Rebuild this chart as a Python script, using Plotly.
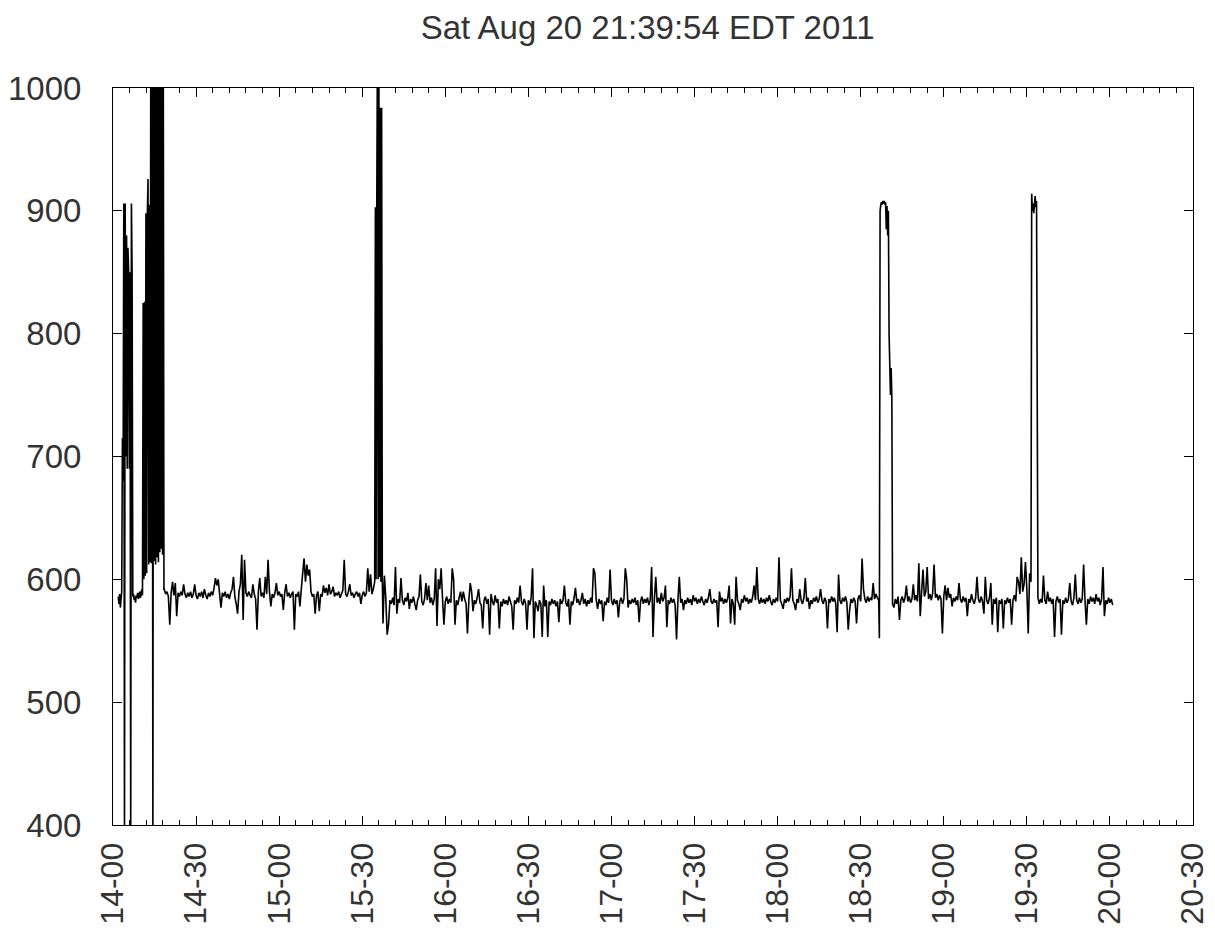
import pandas as pd
import plotly.graph_objects as go

# ---------------- data (minutes after 14:00) ----------------
title_text = "Sat Aug 20 21:39:54 EDT 2011"
day = "2011-08-20 14:00:00"

# 14:01.9 -> 14:18.4, sampled every 0.25 min (first spikes and the first dense burst)
early_start, early_step = 1.9, 0.25
early_vals = [586, 580, 588, 577, 584, 590, 715, 680, 906, 380, 906, 700, 880, 690, 870, 850, 690, 850, 380, 906, 850, 586,
              588, 583, 586, 581, 587, 585, 589, 584, 586, 590, 585, 588, 592, 587,
              825, 600, 826, 603, 898, 605, 897, 926, 612, 905, 614, 1040, 613, 1040, 380, 1040, 615, 1040, 612, 1040,
              618, 1040, 614, 1040, 622, 1040, 625, 1040, 620, 1040, 592]

# 14:18.5 -> 15:34.5, every 0.5 min
base_a_start, base_a_step = 18.5, 0.5
base_a = [592, 588, 590, 586, 563, 589, 598, 587, 597, 570, 589, 586, 590, 587, 596, 588, 585, 589, 586, 590,
          585, 588, 596, 587, 584, 589, 586, 590, 585, 592, 587, 584, 589, 586, 590, 587, 593, 601, 595, 600,
          588, 577, 589, 586, 590, 585, 588, 584, 589, 592, 602, 586, 580, 572, 590, 596, 620, 567, 616, 589,
          586, 590, 587, 585, 596, 588, 584, 559, 590, 601, 586, 589, 585, 602, 588, 616, 590, 578, 588, 585,
          589, 597, 587, 590, 586, 588, 575, 589, 596, 586, 589, 585, 588, 590, 559, 588, 586, 590, 578, 592,
          605, 617, 598, 612, 603, 608, 590, 586, 588, 572, 587, 590, 574, 588, 586, 595, 589, 593, 587, 596,
          588, 590, 594, 586, 589, 587, 590, 585, 588, 591, 616, 588, 586, 590, 596, 587, 589, 585, 588, 590,
          586, 589, 580, 587, 590, 586, 589, 609, 590, 604, 588, 592, 598]

# 15:34.75 -> 15:37.25, every 0.25 min (second dense burst)
block3_start, block3_step = 94.75, 0.25
block3 = [903, 600, 903, 1040, 600, 1040, 602, 984, 598, 984, 600]

# 15:37.5 -> 18:36.5, every 0.5 min
base_b_start, base_b_step = 97.5, 0.5
base_b = [564, 603, 585, 555, 563, 583, 580, 585, 579, 610, 572, 584, 581, 601, 583, 579, 585, 582, 589, 576,
          584, 581, 586, 580, 575, 583, 586, 604, 582, 579, 584, 597, 583, 595, 581, 585, 579, 584, 609, 562,
          600, 592, 609, 584, 563, 582, 586, 580, 584, 581, 609, 600, 563, 583, 579, 585, 590, 582, 590, 584,
          580, 556, 583, 597, 590, 574, 583, 580, 585, 592, 581, 579, 560, 583, 586, 580, 584, 555, 588, 582,
          579, 587, 581, 584, 560, 582, 578, 584, 580, 583, 579, 586, 582, 578, 559, 583, 580, 585, 581, 595,
          582, 579, 584, 580, 559, 583, 579, 585, 609, 552, 582, 579, 574, 583, 580, 553, 595, 578, 583, 553,
          582, 579, 584, 580, 583, 578, 582, 565, 584, 580, 583, 595, 581, 578, 584, 563, 582, 579, 585, 593,
          581, 584, 579, 583, 589, 580, 584, 578, 583, 580, 585, 581, 609, 605, 583, 576, 584, 580, 583, 566,
          582, 579, 585, 581, 608, 583, 579, 584, 580, 583, 569, 582, 585, 580, 584, 609, 600, 577, 583, 580,
          584, 581, 585, 579, 583, 565, 582, 586, 580, 584, 581, 585, 579, 583, 610, 553, 584, 602, 581, 585,
          580, 589, 582, 585, 595, 561, 583, 580, 585, 581, 584, 579, 551, 583, 602, 581, 584, 575, 583, 580,
          585, 581, 584, 579, 587, 582, 585, 580, 584, 581, 586, 582, 579, 584, 581, 585, 592, 582, 580, 584,
          581, 583, 561, 590, 582, 585, 580, 584, 581, 585, 595, 564, 584, 580, 563, 602, 583, 580, 575, 584,
          581, 587, 582, 585, 580, 584, 581, 586, 595, 583, 610, 584, 580, 585, 581, 584, 580, 585, 582, 587,
          582, 579, 584, 581, 585, 582, 618, 583, 580, 576, 584, 581, 585, 582, 586, 609, 583, 580, 575, 584,
          581, 592, 583, 580, 585, 601, 582, 585, 576, 583, 580, 585, 582, 586, 581, 584, 592, 583, 580, 585,
          582, 560, 584, 581, 586, 582, 585, 580, 557, 604, 583, 580, 585, 582, 586, 581, 559, 575, 584, 581,
          585, 582, 564, 584, 587, 582, 617, 592, 584, 581, 586, 582, 585, 583, 597, 584, 588, 585, 583]

# 18:36.75 -> 18:41.25, every 0.25 min (third excursion)
block4_start, block4_step = 276.75, 0.25
block4 = [552, 900, 905, 907, 905, 908, 906, 908, 905, 907, 885, 904, 880, 900, 800, 775, 750, 772, 748]

# 18:41.5 -> 19:31.5, every 0.5 min
base_c_start, base_c_step = 281.5, 0.5
base_c = [580, 577, 584, 580, 586, 567, 583, 586, 581, 585, 595, 582, 586, 581, 584, 596, 583, 587, 582, 613,
          570, 590, 608, 586, 590, 610, 584, 588, 583, 589, 612, 585, 588, 583, 587, 584, 556, 586, 595, 583,
          593, 585, 588, 578, 585, 582, 586, 583, 597, 584, 581, 586, 582, 585, 570, 584, 581, 588, 583, 580,
          585, 602, 584, 581, 586, 582, 572, 602, 583, 580, 585, 597, 563, 584, 580, 585, 557, 583, 580, 584,
          560, 583, 580, 585, 581, 584, 563, 583, 587, 582, 602, 598, 588, 618, 590, 596, 614, 592, 556, 605,
          598]

# 19:31.75 -> 19:33.5, every 0.25 min (fourth excursion)
block5_start, block5_step = 331.75, 0.25
block5 = [914, 900, 906, 898, 905, 912, 903, 908]

# 19:34 -> 20:01, every 0.5 min
base_d_start, base_d_step = 334.0, 0.5
base_d = [585, 580, 584, 581, 603, 583, 580, 590, 582, 585, 580, 584, 553, 582, 586, 581, 584, 555, 583, 580,
          585, 581, 584, 597, 582, 579, 585, 604, 583, 580, 585, 581, 584, 612, 583, 563, 584, 580, 586, 582,
          585, 580, 588, 582, 585, 579, 584, 610, 570, 583, 580, 585, 581, 584, 579]

x_range = ["2011-08-20 14:00:00", "2011-08-20 20:30:00"]
y_range = [400, 1000]

# ---------------- assemble ----------------
segments = [
    (early_start, early_step, early_vals),
    (base_a_start, base_a_step, base_a),
    (block3_start, block3_step, block3),
    (base_b_start, base_b_step, base_b),
    (block4_start, block4_step, block4),
    (base_c_start, base_c_step, base_c),
    (block5_start, block5_step, block5),
    (base_d_start, base_d_step, base_d),
]
minutes, values = [], []
for start, step, vals in segments:
    for i, v in enumerate(vals):
        minutes.append(start + i * step)
        values.append(v)

t0 = pd.Timestamp(day)
times = [t0 + pd.Timedelta(minutes=m) for m in minutes]

fig = go.Figure()
fig.add_trace(go.Scatter(
    x=times, y=values, mode="lines",
    line=dict(color="black", width=1.6, simplify=False),
    showlegend=False, hoverinfo="x+y",
))

font_family = "Liberation Sans, Arial, sans-serif"
text_color = "#333333"
W, H = 1215, 938
fig.update_layout(
    width=W, height=H,
    margin=dict(l=113, r=22, t=88, b=113),
    paper_bgcolor="white", plot_bgcolor="white",
    font=dict(family=font_family, size=33, color=text_color),
    title=dict(text=title_text, x=0.495, xref="paper", xanchor="center",
               y=1 - 27 / H, yref="container", yanchor="middle",
               font=dict(family=font_family, size=33, color=text_color)),
)
fig.update_xaxes(
    type="date", range=x_range,
    tick0=x_range[0], dtick=30 * 60 * 1000, tickformat="%H-%M",
    tickangle=-90,
    ticks="inside", ticklen=9, tickwidth=1, tickcolor="black",
    minor=dict(dtick=6 * 60 * 1000, ticks="inside", ticklen=5, tickwidth=1, tickcolor="black", showgrid=False),
    showline=True, linecolor="black", linewidth=1, mirror="allticks",
    showgrid=False, zeroline=False, automargin=False,
    ticklabelstandoff=4, ticklabeloverflow="allow",
    tickfont=dict(family=font_family, size=32, color=text_color),
)
fig.update_yaxes(
    range=y_range, dtick=100, tick0=400,
    ticks="inside", ticklen=9, tickwidth=1, tickcolor="black",
    showline=True, linecolor="black", linewidth=1, mirror="allticks",
    showgrid=False, zeroline=False, automargin=False,
    ticklabelstandoff=24, ticklabeloverflow="allow",
    tickfont=dict(family=font_family, size=33, color=text_color),
)

# the page's default 8px body margin would push the 1215x938 figure off the window
fig.write_html(
    "out.html",
    config={"displayModeBar": False},
    post_script="document.body.style.margin='0px';document.body.style.overflow='hidden';",
)
